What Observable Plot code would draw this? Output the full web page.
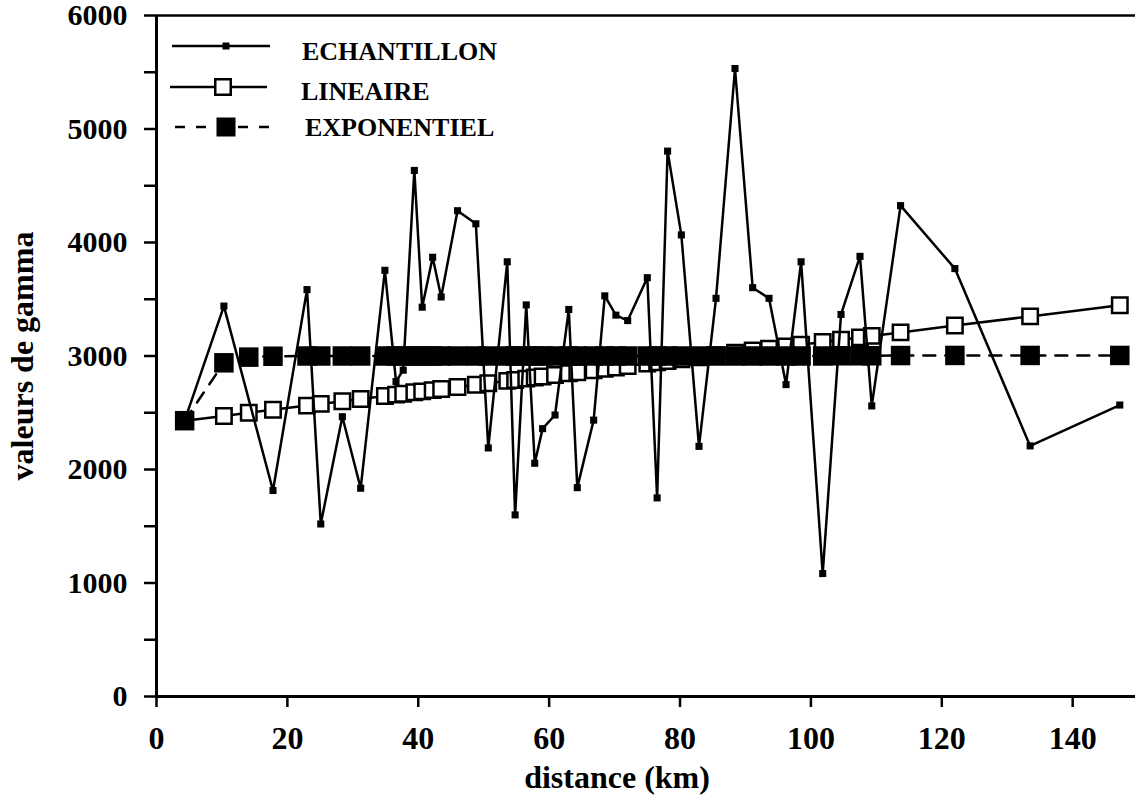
<!DOCTYPE html>
<html>
<head>
<meta charset="utf-8">
<script src="https://cdn.jsdelivr.net/npm/d3@7"></script>
<script src="https://cdn.jsdelivr.net/npm/@observablehq/plot@0.6"></script>
<style>
  html, body { margin: 0; padding: 0; background: white; }
  #wrap { position: relative; width: 1135px; height: 797px; }
  #legend { position: absolute; left: 0; top: 0; pointer-events: none; }
</style>
</head>
<body>
<div id="wrap"></div>
<script>
// ---- data ----
const distEch = [4.3, 10.3, 17.8, 23.0, 25.1, 28.4, 31.2, 34.9, 36.6, 37.7, 39.4, 40.6, 42.2, 43.5, 46.0, 48.8,
  50.7, 53.6, 54.8, 56.5, 57.8, 59.0, 60.9, 63.0, 64.3, 66.8, 68.5, 70.2, 72.0, 75.0, 76.5, 78.1,
  80.2, 82.9, 85.5, 88.4, 91.1, 93.6, 96.2, 98.5, 101.8, 104.6, 107.5, 109.3, 113.7, 122.0, 133.5, 147.2];
const gammaEch = [2430, 3440, 1815, 3585, 1520, 2465, 1835, 3755, 2775, 2875, 4635, 3430, 3870, 3520, 4280, 4165,
  2190, 3830, 1600, 3450, 2055, 2360, 2480, 3410, 1840, 2435, 3530, 3360, 3312, 3690, 1750, 4805,
  4067, 2204, 3508, 5533, 3602, 3508, 2748, 3830, 1083, 3366, 3878, 2560, 4325, 3770, 2208, 2568];

const distModel = [4.3, 10.3, 14.1, 17.8, 23.0, 25.1, 28.4, 31.2, 34.9, 36.6, 37.7, 39.4, 40.6, 42.2, 43.5, 46.0, 48.8,
  50.7, 53.6, 54.8, 56.5, 57.8, 59.0, 60.9, 63.0, 64.3, 66.8, 68.5, 70.2, 72.0, 75.0, 76.5, 78.1,
  80.2, 82.9, 85.5, 88.4, 91.1, 93.6, 96.2, 98.5, 101.8, 104.6, 107.5, 109.3, 113.7, 122.0, 133.5, 147.2];
const gammaLin = [2430, 2472, 2500, 2526, 2563, 2578, 2601, 2621, 2648, 2660, 2667, 2680, 2688, 2699, 2709, 2727, 2746,
  2760, 2781, 2789, 2801, 2811, 2819, 2833, 2848, 2857, 2875, 2887, 2899, 2912, 2933, 2944, 2955,
  2970, 2989, 3008, 3028, 3048, 3065, 3084, 3100, 3124, 3144, 3164, 3177, 3208, 3268, 3349, 3447];
const gammaExp = [2430, 2940, 2990, 2998, 3000, 3000, 3000, 3000, 3000, 3000, 3000, 3000, 3000, 3000, 3000, 3000, 3000,
  3000, 3000, 3000, 3000, 3000, 3000, 3000, 3000, 3000, 3000, 3000, 3000, 3000, 3000, 3000, 3000,
  3000, 3000, 3000, 3000, 3000, 3000, 3000, 3000, 3000, 3002, 3002, 3002, 3004, 3005, 3005, 3005];

const xTicks = [0, 20, 40, 60, 80, 100, 120, 140];
const yTicks = [0, 500, 1000, 1500, 2000, 2500, 3000, 3500, 4000, 4500, 5000, 5500, 6000];
const yLabelled = [0, 1000, 2000, 3000, 4000, 5000, 6000];
const seriesNames = ["ECHANTILLON", "LINEAIRE", "EXPONENTIEL"];
const xTitle = "distance (km)";
const yTitle = "valeurs de gamma";

// ---- tables ----
const ech = distEch.map((d, i) => ({d, g: gammaEch[i]}));
const lin = distModel.map((d, i) => ({d, g: gammaLin[i]}));
const expo = distModel.map((d, i) => ({d, g: gammaExp[i]}));

const FONT = "'Liberation Serif', 'Times New Roman', serif";

const chart = Plot.plot({
  width: 1135,
  height: 797,
  marginLeft: 156,
  marginRight: 0,
  marginTop: 15,
  marginBottom: 101,
  x: {domain: [0, 149.6]},
  y: {domain: [0, 6000]},
  style: {fontFamily: FONT, fontWeight: "bold", background: "white", color: "black", overflow: "visible"},
  marks: [
    Plot.axisY({ticks: yTicks, tickSize: 12, tickPadding: 17, strokeWidth: 2.5,
      tickFormat: d => yLabelled.includes(d) ? String(d) : "", fontSize: 30, fontWeight: "bold", label: null}),
    Plot.axisX({ticks: xTicks, tickSize: 11, tickPadding: 19, strokeWidth: 2.5,
      tickFormat: d => String(d), fontSize: 32, fontWeight: "bold", label: null}),
    Plot.text([xTitle], {frameAnchor: "bottom", textAnchor: "middle", dx: -29, dy: 91, fontSize: 32, fontWeight: "bold"}),
    Plot.text([yTitle], {frameAnchor: "left", textAnchor: "middle", rotate: -90, dx: -134, fontSize: 32, fontWeight: "bold"}),
    Plot.ruleY([6000], {stroke: "black", strokeWidth: 2.5}),
    Plot.ruleY([0], {stroke: "black", strokeWidth: 3}),
    Plot.ruleX([0], {stroke: "black", strokeWidth: 3}),
    // LINEAIRE
    Plot.line(lin, {x: "d", y: "g", stroke: "black", strokeWidth: 2.5}),
    Plot.dot(lin, {x: "d", y: "g", symbol: "square", r: 8.7, fill: "white", stroke: "black", strokeWidth: 2.5}),
    // EXPONENTIEL
    Plot.line(expo, {x: "d", y: "g", stroke: "black", strokeWidth: 2.5, strokeDasharray: "12,10"}),
    Plot.dot(expo, {x: "d", y: "g", symbol: "square", r: 11, fill: "black", stroke: "none"}),
    // ECHANTILLON
    Plot.line(ech, {x: "d", y: "g", stroke: "black", strokeWidth: 2.5}),
    Plot.dot(ech, {x: "d", y: "g", symbol: "square", r: 4, fill: "black", stroke: "none"})
  ]
});

const wrap = document.getElementById("wrap");
wrap.appendChild(chart);

// ---- legend (inside plot area, top-left) ----
const ns = "http://www.w3.org/2000/svg";
const leg = document.createElementNS(ns, "svg");
leg.setAttribute("id", "legend");
leg.setAttribute("width", 1135);
leg.setAttribute("height", 797);
const rows = [
  {name: seriesNames[0], ly: 46, x1: 172, x2: 270, sx: 226, side: 7, fill: "black", stroke: "none", dash: null, tx: 302, ty: 60},
  {name: seriesNames[1], ly: 87, x1: 170, x2: 267, sx: 223, side: 15.5, fill: "white", stroke: "black", dash: null, tx: 301, ty: 100},
  {name: seriesNames[2], ly: 127, x1: 175, x2: 273, sx: 226, side: 19, fill: "black", stroke: "none", dash: "10,11", tx: 305, ty: 136}
];
for (const r of rows) {
  const l = document.createElementNS(ns, "line");
  l.setAttribute("x1", r.x1); l.setAttribute("x2", r.x2);
  l.setAttribute("y1", r.ly); l.setAttribute("y2", r.ly);
  l.setAttribute("stroke", "black"); l.setAttribute("stroke-width", 2.5);
  if (r.dash) l.setAttribute("stroke-dasharray", r.dash);
  leg.appendChild(l);
  const s = document.createElementNS(ns, "rect");
  s.setAttribute("x", r.sx - r.side / 2); s.setAttribute("y", r.ly - r.side / 2);
  s.setAttribute("width", r.side); s.setAttribute("height", r.side);
  s.setAttribute("fill", r.fill);
  if (r.stroke !== "none") { s.setAttribute("stroke", r.stroke); s.setAttribute("stroke-width", 2.5); }
  leg.appendChild(s);
  const t = document.createElementNS(ns, "text");
  t.setAttribute("x", r.tx); t.setAttribute("y", r.ty);
  t.setAttribute("font-family", FONT); t.setAttribute("font-weight", "bold");
  t.setAttribute("font-size", 26); t.setAttribute("fill", "black");
  t.textContent = r.name;
  leg.appendChild(t);
}
wrap.appendChild(leg);
</script>
</body>
</html>
